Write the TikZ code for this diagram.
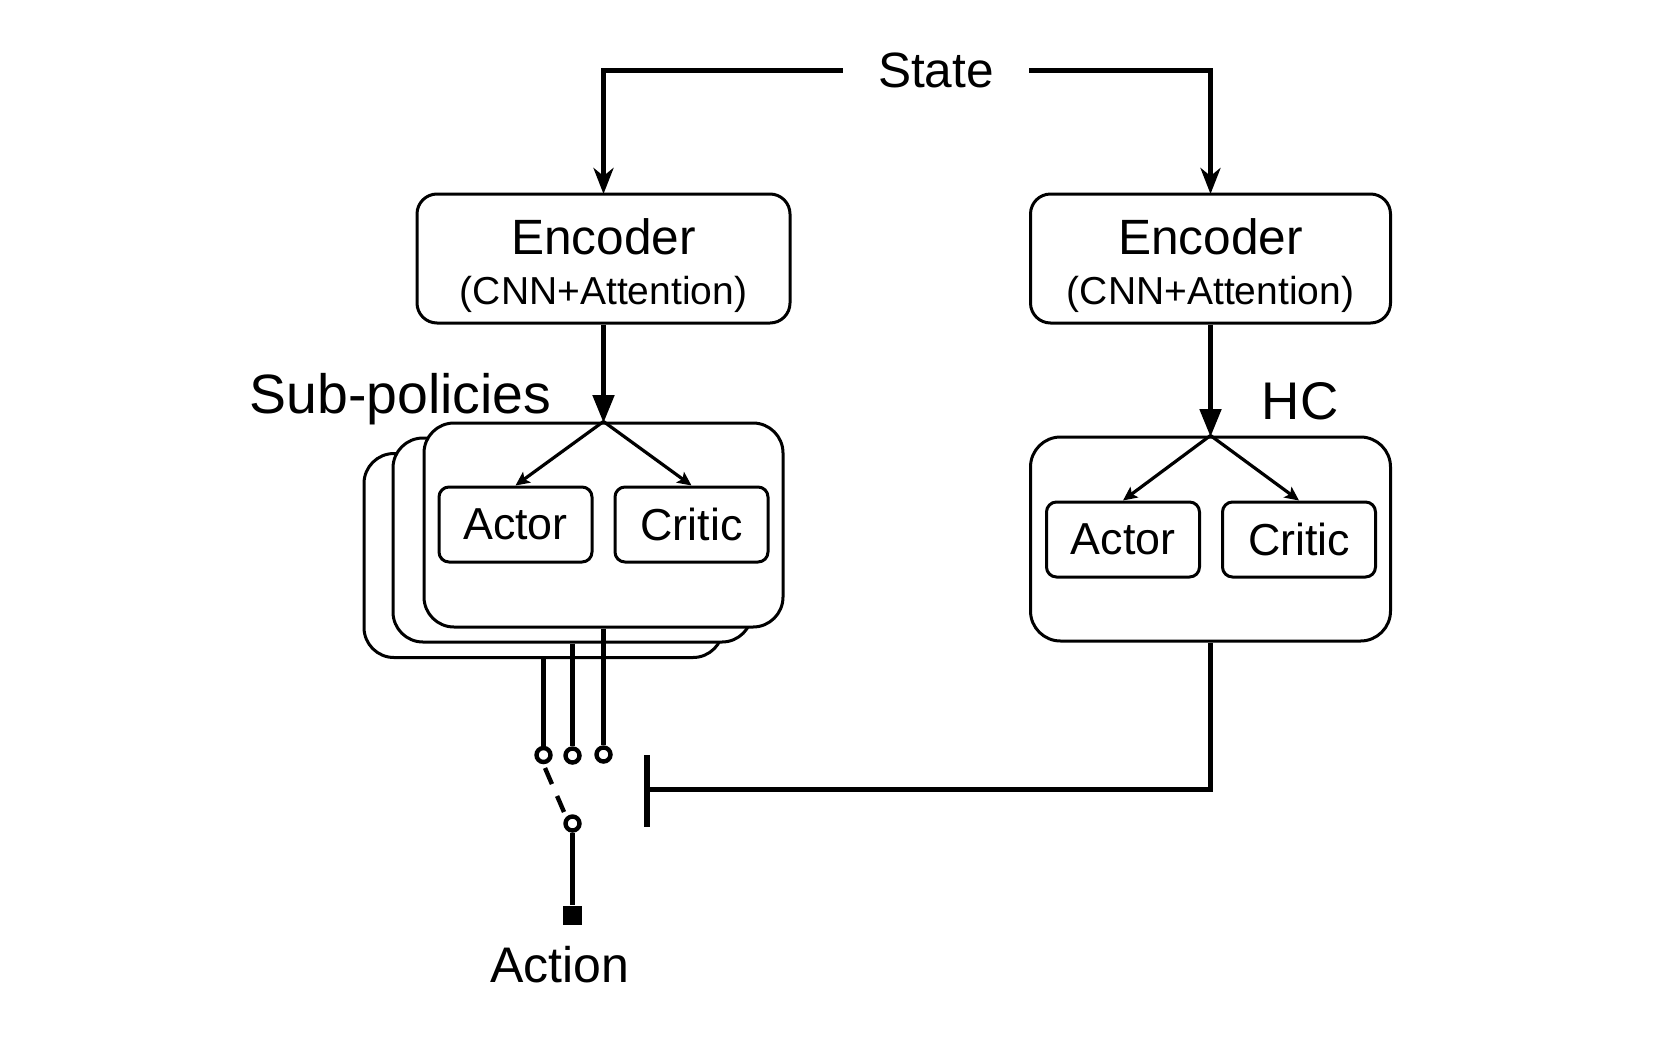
\documentclass[tikz,border=0pt]{standalone}
\usepackage{fontspec}
\setmainfont{Liberation Sans}
\usetikzlibrary{arrows.meta}
\tikzset{
  x=0.5pt,y=-0.5pt,
  rbox/.style={draw=black,fill=white,line width=1.5pt,rounded corners=#1,inner sep=0pt},
  encbox/.style={rbox=10pt,align=center,minimum height=64.5pt},
  policybox/.style={rbox=15pt,minimum width=179.5pt,minimum height=102pt},
  leaf/.style={rbox=5pt,minimum width=76.5pt,minimum height=37.5pt,font=\fontsize{22.4}{26}\selectfont},
  lbl/.style={inner sep=0pt,anchor=base},
  wire/.style={draw=black,line width=2.5pt},
  feed/.style={wire,-{Stealth[length=13pt,width=10pt,inset=4pt]},shorten >=-0.75pt},
  inflow/.style={wire,-{Triangle[length=14pt,width=10.5pt]},shorten >=-0.75pt},
  split/.style={draw=black,line width=1.6pt,-{Stealth[length=7pt,width=6.5pt,inset=1.5pt]}},
  contact/.style={circle,draw=black,fill=white,line width=2.2pt,inner sep=0pt,minimum size=7pt},
}
\newcommand{\enctext}{\rule{0pt}{24.8pt}{\fontsize{24.8}{25}\selectfont Encoder}\\[9.5pt]{\fontsize{19.5}{25}\selectfont (CNN+Attention)}}
\begin{document}
\begin{tikzpicture}
\useasboundingbox[fill=white] (0,0) rectangle (1675,1039);
% top
\node[inner sep=0pt,minimum width=93pt,font=\fontsize{24.8}{28}\selectfont] (st) at (936,70) {\raisebox{-1pt}{State}};
\node[encbox,minimum width=186.5pt] (e1) at (603.5,258.5) {\enctext};
\node[encbox,minimum width=180pt] (e2) at (1210.5,258.5) {\enctext};
% stacked sub-policies
\node[policybox] (s3) at (543.5,555.5) {};
\node[policybox] (s2) at (572.5,540) {};
\node[policybox] (s1) at (603.5,525) {};
\node[leaf] (a1) at (515.5,524.5) {\raisebox{-0.6pt}{Actor}};
\node[leaf] (c1) at (691.5,524.5) {Critic};
% HC
\node[policybox,minimum width=180pt] (h) at (1210.5,539) {};
\node[leaf] (a2) at (1123,539.5) {\raisebox{-0.6pt}{Actor}};
\node[leaf] (c2) at (1299,539.5) {Critic};
% labels
\node[lbl,font=\fontsize{27.7}{30}\selectfont] (sub) at (400.5,413) {Sub-policies};
\node[lbl,font=\fontsize{26.5}{30}\selectfont] (hc) at (1300,419) {HC};
% switch
\node[contact] (p3) at (543.5,755) {};
\node[contact] (p2) at (572.5,755.5) {};
\node[contact] (p1) at (603.5,754.5) {};
\node[contact] (q) at (572.5,823.5) {};
\node[fill=black,inner sep=0pt,minimum size=9.5pt] (out) at (572.5,915) {};
\node[lbl,font=\fontsize{25}{28}\selectfont] (act) at (560,982) {Action};
\coordinate (bar1) at (647,755);
\coordinate (bar2) at (647,827);
\coordinate (barmid) at (647,789);
\coordinate (d1) at (545,768);
\coordinate (d2) at (564,812);
% connectors
\draw[feed] (st.west) -| (e1.north);
\draw[feed] (st.east) -| (e2.north);
\draw[inflow] (e1.south) -- (s1.north);
\draw[inflow] (e2.south) -- (h.north);
\draw[split] (s1.north) -- (a1.north);
\draw[split] (s1.north) -- (c1.north);
\draw[split] (h.north) -- (a2.north);
\draw[split] (h.north) -- (c2.north);
\draw[wire] (s1.south) -- (p1.north);
\draw[wire] (s2.south) -- (p2.north);
\draw[wire] (s3.south) -- (p3.north);
\draw[wire,line width=2.2pt,dash pattern=on 8.75pt off 6.5pt] (d1) -- (d2);
\draw[wire,line width=2.2pt] (q.south) -- (out.north);
\draw[wire,line width=2.8pt] (bar1) -- (bar2);
\draw[wire] (barmid) -| (h.south);
\end{tikzpicture}
\end{document}
